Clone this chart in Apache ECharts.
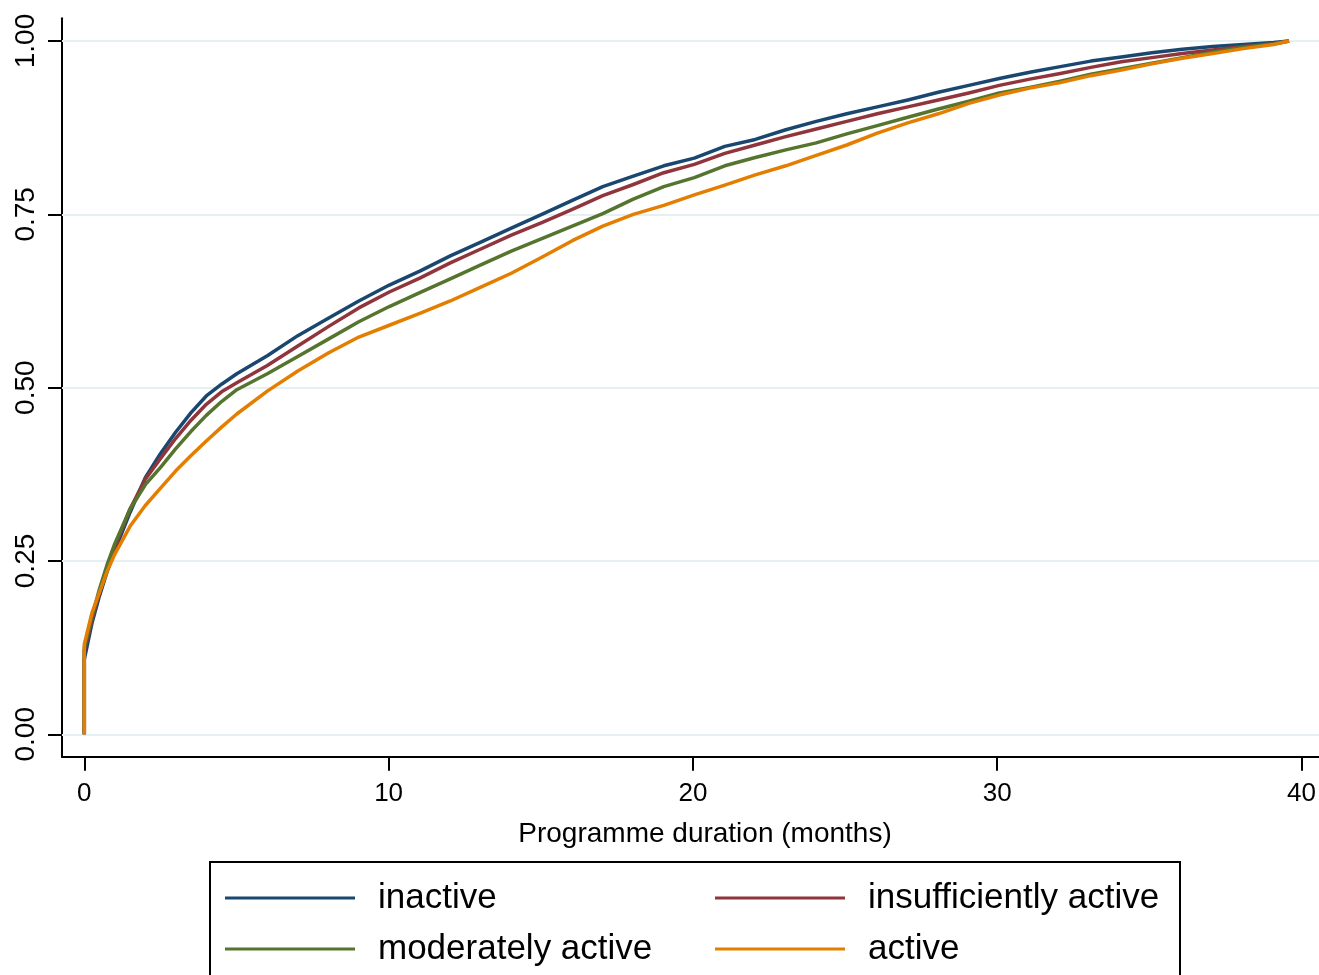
<!DOCTYPE html>
<html>
<head>
<meta charset="utf-8">
<script src="https://cdn.jsdelivr.net/npm/echarts@6/dist/echarts.min.js"></script>
<style>
html,body{margin:0;padding:0;background:#fff;}
#chart{width:1319px;height:975px;}
</style>
</head>
<body>
<div id="chart"></div>
<script>
const months = [0, 0.25, 0.5, 0.75, 1, 1.5, 2, 2.5, 3, 3.5, 4, 4.5, 5, 6, 7, 8, 9, 10, 11, 12, 13, 14, 15, 16, 17, 18, 19, 20, 21, 22, 23, 24, 25, 26, 27, 28, 29, 30, 31, 32, 33, 34, 35, 36, 37, 38, 39, 39.5];
const inactive = [0.108, 0.16, 0.2, 0.235, 0.265, 0.32, 0.37, 0.405, 0.436, 0.464, 0.488, 0.505, 0.52, 0.546, 0.575, 0.6, 0.625, 0.648, 0.668, 0.69, 0.71, 0.73, 0.75, 0.77, 0.79, 0.805, 0.82, 0.831, 0.848, 0.858, 0.872, 0.884, 0.895, 0.905, 0.915, 0.926, 0.936, 0.946, 0.955, 0.963, 0.971, 0.977, 0.983, 0.988, 0.992, 0.995, 0.998, 1.0];
const insufficientlyActive = [0.12, 0.165, 0.205, 0.24, 0.27, 0.325, 0.368, 0.398, 0.427, 0.453, 0.476, 0.494, 0.507, 0.532, 0.56, 0.588, 0.615, 0.638, 0.658, 0.68, 0.7, 0.72, 0.738, 0.757, 0.777, 0.793, 0.81, 0.822, 0.838, 0.85, 0.862, 0.873, 0.884, 0.895, 0.905, 0.915, 0.925, 0.936, 0.945, 0.953, 0.962, 0.97, 0.976, 0.982, 0.987, 0.992, 0.996, 1.0];
const moderatelyActive = [0.125, 0.17, 0.21, 0.245, 0.275, 0.325, 0.36, 0.385, 0.412, 0.437, 0.46, 0.48, 0.497, 0.52, 0.545, 0.57, 0.595, 0.617, 0.637, 0.657, 0.677, 0.697, 0.715, 0.733, 0.751, 0.772, 0.79, 0.803, 0.82, 0.832, 0.843, 0.853, 0.866, 0.878, 0.89, 0.902, 0.913, 0.925, 0.933, 0.942, 0.952, 0.96, 0.968, 0.976, 0.984, 0.991, 0.996, 1.0];
const active = [0.13, 0.175, 0.205, 0.235, 0.26, 0.3, 0.33, 0.355, 0.38, 0.402, 0.423, 0.443, 0.462, 0.495, 0.524, 0.55, 0.573, 0.59, 0.607, 0.625, 0.645, 0.665, 0.688, 0.712, 0.733, 0.75, 0.763, 0.778, 0.792, 0.807, 0.82, 0.835, 0.85, 0.867, 0.882, 0.895, 0.91, 0.922, 0.932, 0.94, 0.95, 0.958, 0.967, 0.975, 0.982, 0.989, 0.995, 1.0];

const seriesNames = ['inactive', 'insufficiently active', 'moderately active', 'active'];
const seriesValues = [inactive, insufficientlyActive, moderatelyActive, active];
const colors = ['#1a476f', '#90353b', '#55752f', '#e37e00'];
const xTicks = [0, 10, 20, 30, 40];
const yTicks = [0, 0.25, 0.5, 0.75, 1];
const xTitle = 'Programme duration (months)';

// layout (pixels)
const X0 = 84.3, PXX = 30.5;      // x=0 pixel, px per month
const Y0 = 734.3, PXY = 693.3;    // y=0 pixel, px per unit
const AX_L = 62, AX_B = 756.7, AX_T = 18.3, W = 1319, H = 975;

const font = '"Liberation Sans", Arial, Helvetica, sans-serif';

const chart = echarts.init(document.getElementById('chart'), null, {renderer: 'canvas'});

const dataSeries = seriesValues.map((vals, i) => ({
  name: seriesNames[i],
  type: 'line',
  xAxisIndex: 0,
  yAxisIndex: 0,
  showSymbol: false,
  symbol: 'none',
  animation: false,
  color: colors[i],
  itemStyle: {color: colors[i]},
  lineStyle: {color: colors[i], width: 3.5, join: 'round'},
  data: [[0, 0]].concat(months.map((m, k) => [m, vals[k]])),
  z: 3 + i
}));

// gridlines: separate empty series underneath the curves
const gridSeries = {
  type: 'line', xAxisIndex: 0, yAxisIndex: 0, data: [], silent: true, z: 1,
  markLine: {
    silent: true,
    z: 1,
    symbol: 'none',
    label: {show: false},
    animation: false,
    lineStyle: {color: '#e6eff1', width: 2, type: 'solid'},
    data: yTicks.map(v => ({yAxis: v}))
  }
};

const legendPos = [
  {left: 225, top: 878},
  {left: 715, top: 878},
  {left: 225, top: 929},
  {left: 715, top: 929}
];
const legends = [0, 1, 2, 3].map(i => ({
  data: [seriesNames[i]],
  left: legendPos[i].left,
  top: legendPos[i].top,
  padding: 0,
  icon: 'rect',
  itemWidth: 130,
  itemHeight: 3,
  selectedMode: false,
  textStyle: {fontFamily: font, fontSize: 35, color: '#000', lineHeight: 40, padding: [0, 0, 0, 18]}
}));

const option = {
  backgroundColor: '#fff',
  animation: false,
  grid: [
    {left: AX_L, right: 0, top: AX_T, height: AX_B - AX_T, containLabel: false},
    {left: X0, top: Y0 - PXY, width: PXX * 40, height: PXY, containLabel: false}
  ],
  xAxis: [
    {
      type: 'value', gridIndex: 0,
      min: (AX_L - X0) / PXX, max: (W - X0) / PXX,
      axisLine: {show: true, onZero: false, lineStyle: {color: '#000', width: 2}},
      axisTick: {show: false}, axisLabel: {show: false}, splitLine: {show: false}
    },
    {
      type: 'value', gridIndex: 1, min: 0, max: 40, interval: 10,
      offset: AX_B - Y0,
      axisLine: {show: false, onZero: false},
      axisTick: {show: true, length: 14, lineStyle: {color: '#000', width: 2}},
      axisLabel: {show: true, margin: 24, fontFamily: font, fontSize: 26, color: '#000',
        formatter: v => (xTicks.indexOf(v) >= 0 ? String(v) : '')},
      splitLine: {show: false}
    }
  ],
  yAxis: [
    {
      type: 'value', gridIndex: 0,
      min: -(AX_B - Y0) / PXY, max: 1 + (Y0 - PXY - AX_T) / PXY,
      axisLine: {show: true, onZero: false, lineStyle: {color: '#000', width: 2}},
      axisTick: {show: false}, axisLabel: {show: false}, splitLine: {show: false}
    },
    {
      type: 'value', gridIndex: 1, min: 0, max: 1, interval: 0.25,
      offset: X0 - AX_L,
      axisLine: {show: false, onZero: false},
      axisTick: {show: true, length: 14, lineStyle: {color: '#000', width: 2}},
      axisLabel: {show: true, rotate: 90, margin: 22, fontFamily: font, fontSize: 28, color: '#000',
        formatter: v => (yTicks.indexOf(v) >= 0 ? v.toFixed(2) : '')},
      splitLine: {show: false}
    }
  ],
  legend: legends,
  graphic: [
    {
      type: 'rect', silent: true, z: 0,
      shape: {x: 210, y: 862, width: 970, height: 140},
      style: {fill: '#fff', stroke: '#000', lineWidth: 2}
    },
    {
      type: 'text', silent: true, z: 10,
      x: 705, y: 834,
      style: {text: xTitle, fontFamily: font, fontSize: 28, fill: '#000', align: 'center', verticalAlign: 'middle'}
    }
  ],
  series: [gridSeries].concat(dataSeries).concat([{
    type: 'line', xAxisIndex: 1, yAxisIndex: 1, data: [], silent: true
  }])
};
chart.setOption(option);
</script>
</body>
</html>
